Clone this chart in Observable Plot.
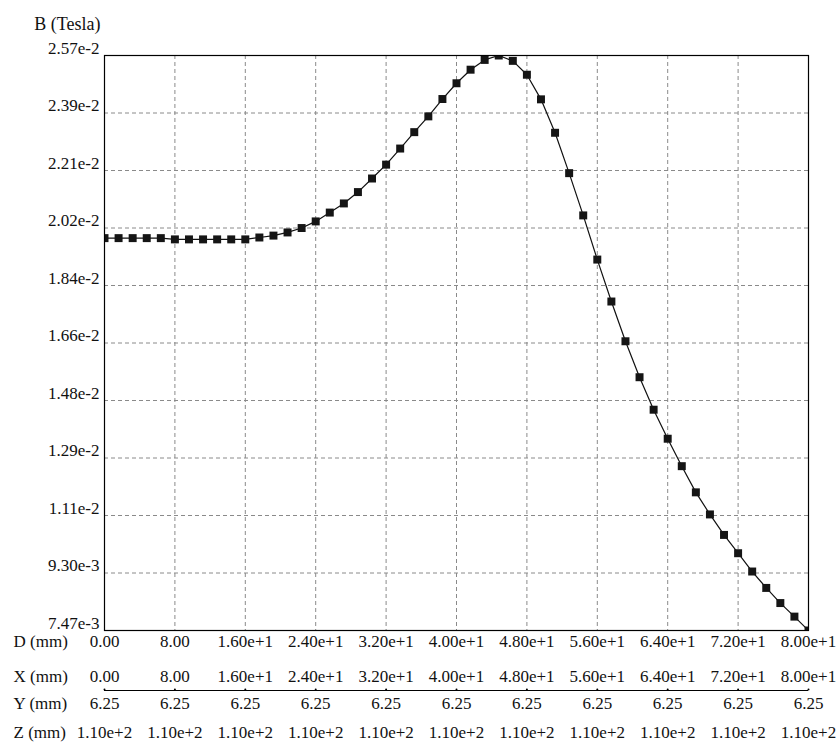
<!DOCTYPE html>
<html>
<head>
<meta charset="utf-8">
<script src="https://cdn.jsdelivr.net/npm/d3@7"></script>
<script src="https://cdn.jsdelivr.net/npm/@observablehq/plot@0.6"></script>
<style>
  html, body { margin: 0; padding: 0; background: #fff; }
  #chart svg { display: block; }
  #chart svg, #chart svg text { font-family: "Liberation Serif", "Times New Roman", serif !important; }
</style>
</head>
<body>
<div id="chart"></div>
<script>
// Distance along the path (mm)
const dValues = [0, 1.6, 3.2, 4.8, 6.4, 8, 9.6, 11.2, 12.8, 14.4,
  16, 17.6, 19.2, 20.8, 22.4, 24, 25.6, 27.2, 28.8, 30.4,
  32, 33.6, 35.2, 36.8, 38.4, 40, 41.6, 43.2, 44.8, 46.4,
  48, 49.6, 51.2, 52.8, 54.4, 56, 57.6, 59.2, 60.8, 62.4,
  64, 65.6, 67.2, 68.8, 70.4, 72, 73.6, 75.2, 76.8, 78.4, 80];
// Magnetic flux density B (Tesla)
const bValues = [0.01991, 0.01991, 0.01991, 0.01991, 0.01991, 0.01987, 0.01987, 0.01987, 0.01987, 0.01987,
  0.01987, 0.01993, 0.01999, 0.02009, 0.02023, 0.02044, 0.02072, 0.02101, 0.02137, 0.02180,
  0.02224, 0.02275, 0.02327, 0.02377, 0.02432, 0.02482, 0.02525, 0.02556, 0.02570, 0.02553,
  0.02509, 0.02431, 0.02325, 0.02197, 0.02063, 0.01923, 0.01790, 0.01664, 0.01550, 0.01447,
  0.01355, 0.01268, 0.01185, 0.01115, 0.01050, 0.00992, 0.00934, 0.00882, 0.00834, 0.00791, 0.00747];

// Tick positions and labels
const xTicks = [0, 8, 16, 24, 32, 40, 48, 56, 64, 72, 80];
const dLabels = ["0.00", "8.00", "1.60e+1", "2.40e+1", "3.20e+1", "4.00e+1", "4.80e+1", "5.60e+1", "6.40e+1", "7.20e+1", "8.00e+1"];
const xLabels = ["0.00", "8.00", "1.60e+1", "2.40e+1", "3.20e+1", "4.00e+1", "4.80e+1", "5.60e+1", "6.40e+1", "7.20e+1", "8.00e+1"];
const yLabels = ["6.25", "6.25", "6.25", "6.25", "6.25", "6.25", "6.25", "6.25", "6.25", "6.25", "6.25"];
const zLabels = ["1.10e+2", "1.10e+2", "1.10e+2", "1.10e+2", "1.10e+2", "1.10e+2", "1.10e+2", "1.10e+2", "1.10e+2", "1.10e+2", "1.10e+2"];
const bTicks = [0.00747, 0.009293, 0.011116, 0.012939, 0.014762, 0.016585, 0.018408, 0.020231, 0.022054, 0.023877, 0.0257];
const bTickLabels = ["7.47e-3", "9.30e-3", "1.11e-2", "1.29e-2", "1.48e-2", "1.66e-2", "1.84e-2", "2.02e-2", "2.21e-2", "2.39e-2", "2.57e-2"];
const rowNames = ["D (mm)", "X (mm)", "Y (mm)", "Z (mm)"];
const yTitle = "B (Tesla)";

const data = dValues.map((d, i) => ({d, b: bValues[i]}));
const font = "'Liberation Serif', 'Times New Roman', serif";
const gridStyle = {stroke: "#8a8a8a", strokeOpacity: 1, strokeDasharray: "4,3"};
const textStyle = {fontSize: 17, fontFamily: font, fill: "#111"};

const rows = [
  {labels: dLabels, dy: 16},
  {labels: xLabels, dy: 51},
  {labels: yLabels, dy: 78},
  {labels: zLabels, dy: 107}
];

const marks = [
  Plot.gridX(xTicks, gridStyle),
  Plot.gridY(bTicks, gridStyle),
  Plot.line(data, {x: "d", y: "b", stroke: "#111", strokeWidth: 1.2, clip: true}),
  Plot.dot(data, {x: "d", y: "b", symbol: "square", r: 4.5, fill: "#151515", stroke: null, clip: true}),
  Plot.frame({stroke: "#000", strokeWidth: 1.2}),
  Plot.axisY(bTicks, {tickSize: 0, tickPadding: 5, dy: -7, tickFormat: (d, i) => bTickLabels[i], ...textStyle, label: null}),
  Plot.text([yTitle], {frameAnchor: "top-left", dx: -4, dy: -38, textAnchor: "end", ...textStyle, fontSize: 18}),
  Plot.ruleY([bTicks[0]], {dy: 60, stroke: "#000", strokeWidth: 1}),
  Plot.dot(xTicks, {x: d => d, frameAnchor: "bottom", dy: 59, r: 1, fill: "#000", stroke: null})
];
rows.forEach((row, k) => {
  marks.push(Plot.text(xTicks, {x: d => d, text: (d, i) => row.labels[i], frameAnchor: "bottom", dy: row.dy, ...textStyle}));
  marks.push(Plot.text([rowNames[k]], {frameAnchor: "bottom-left", dx: -91, dy: row.dy, textAnchor: "start", ...textStyle}));
});

const chart = Plot.plot({
  width: 837,
  height: 745,
  marginLeft: 104,
  marginRight: 29,
  marginTop: 55,
  marginBottom: 115,
  style: {fontFamily: font, fontSize: "17px", background: "#fff", color: "#111"},
  x: {domain: [0, 80], axis: null},
  y: {domain: [0.00747, 0.0257], axis: null},
  marks
});
document.getElementById("chart").appendChild(chart);
</script>
</body>
</html>
